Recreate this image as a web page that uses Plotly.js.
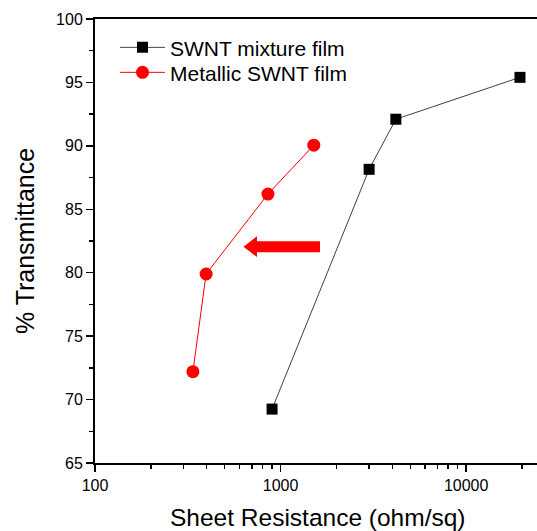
<!DOCTYPE html>
<html>
<head>
<meta charset="utf-8">
<script src="https://cdn.plot.ly/plotly-3.0.1.min.js"></script>
<style>
html,body{margin:0;padding:0;overflow:hidden;background:#fff;}
#chart{width:541px;height:531px;}
</style>
</head>
<body>
<div id="chart"></div>
<script>
// Data
var mixtureName = "SWNT mixture film";
var mixtureResistance = [900, 3000, 4180, 19500];
var mixtureTransmittance = [69.25, 88.15, 92.1, 95.4];

var metallicName = "Metallic SWNT film";
var metallicResistance = [337, 397, 855, 1510];
var metallicTransmittance = [72.2, 79.9, 86.2, 90.05];

var xTickVals = [100, 1000, 10000];
var xTickText = ["100", "1000", "10000"];
var xMinorVals = [200, 300, 400, 500, 600, 700, 800, 900,
                  2000, 3000, 4000, 5000, 6000, 7000, 8000, 9000, 20000];
var yTickVals = [65, 70, 75, 80, 85, 90, 95, 100];

var xTitle = "Sheet Resistance (ohm/sq)";
var yTitle = "% Transmittance";

// layout geometry
var W = 541, H = 531, ML = 95, MR = 1, MT = 19, MB = 68;
var PW = W - ML - MR, PH = H - MT - MB;
function px(x){ return (x - ML) / PW; }
function py(y){ return (H - MB - y) / PH; }

// arrow outline (pixel positions of the annotation arrow)
var arrowPts = [[243.5,246.7],[257,236.3],[257,241.3],[320,241.3],[320,252.3],[257,252.3],[257,257.1]];
var arrowPath = arrowPts.map(function(p,i){
  return (i===0?"M":"L") + px(p[0]).toFixed(4) + "," + py(p[1]).toFixed(4);
}).join(" ") + " Z";

var font = "Liberation Sans, Arial, sans-serif";

var traces = [
  {
    x: mixtureResistance, y: mixtureTransmittance, name: mixtureName,
    type: "scatter", mode: "lines+markers", legend: "legend",
    line: {color: "#404040", width: 1},
    marker: {symbol: "square", size: 11, color: "#000000"}
  },
  {
    x: metallicResistance, y: metallicTransmittance, name: metallicName,
    type: "scatter", mode: "lines+markers", legend: "legend2",
    line: {color: "#ff0000", width: 1},
    marker: {symbol: "circle", size: 13, color: "#ff0000"}
  }
];

function legendAt(cy){
  return {
    x: px(115), y: py(cy), xanchor: "left", yanchor: "middle",
    font: {family: font, size: 21, color: "#000"},
    bgcolor: "rgba(0,0,0,0)", borderwidth: 0,
    itemwidth: 45
  };
}

var layout = {
  width: W, height: H,
  margin: {l: ML, r: MR, t: MT, b: MB, pad: 0},
  paper_bgcolor: "#ffffff", plot_bgcolor: "#ffffff",
  font: {family: font, color: "#000000"},
  showlegend: true,
  legend: legendAt(47.7),
  legend2: legendAt(72.7),
  xaxis: {
    type: "log", range: [2, Math.log10(25000)],
    tickmode: "array", tickvals: xTickVals, ticktext: xTickText,
    ticks: "outside", ticklen: 7, tickwidth: 1.5, tickcolor: "#000",
    minor: {tickmode: "array", tickvals: xMinorVals, ticks: "outside", ticklen: 4, tickwidth: 1.5, tickcolor: "#000", showgrid: false},
    showline: true, linewidth: 2, linecolor: "#000", mirror: true,
    showgrid: false, zeroline: false,
    tickfont: {family: font, size: 16, color: "#000"}
  },
  yaxis: {
    range: [65, 100],
    tickmode: "array", tickvals: yTickVals,
    ticks: "outside", ticklen: 7, tickwidth: 1.5, tickcolor: "#000",
    minor: {dtick: 2.5, ticks: "outside", ticklen: 4, tickwidth: 1.5, tickcolor: "#000", showgrid: false},
    showline: true, linewidth: 2, linecolor: "#000", mirror: true,
    showgrid: false, zeroline: false,
    tickfont: {family: font, size: 16, color: "#000"},
    title: {text: yTitle, font: {family: font, size: 25, color: "#000"}, standoff: 14}
  },
  annotations: [
    {text: xTitle, xref: "paper", yref: "paper", x: px(318), y: py(517),
     xanchor: "center", yanchor: "middle", showarrow: false,
     font: {family: font, size: 24.5, color: "#000"}}
  ],
  shapes: [
    {type: "path", xref: "paper", yref: "paper", path: arrowPath,
     fillcolor: "#ff0000", line: {width: 0}}
  ]
};

Plotly.newPlot("chart", traces, layout, {displayModeBar: false, staticPlot: true});
</script>
</body>
</html>
